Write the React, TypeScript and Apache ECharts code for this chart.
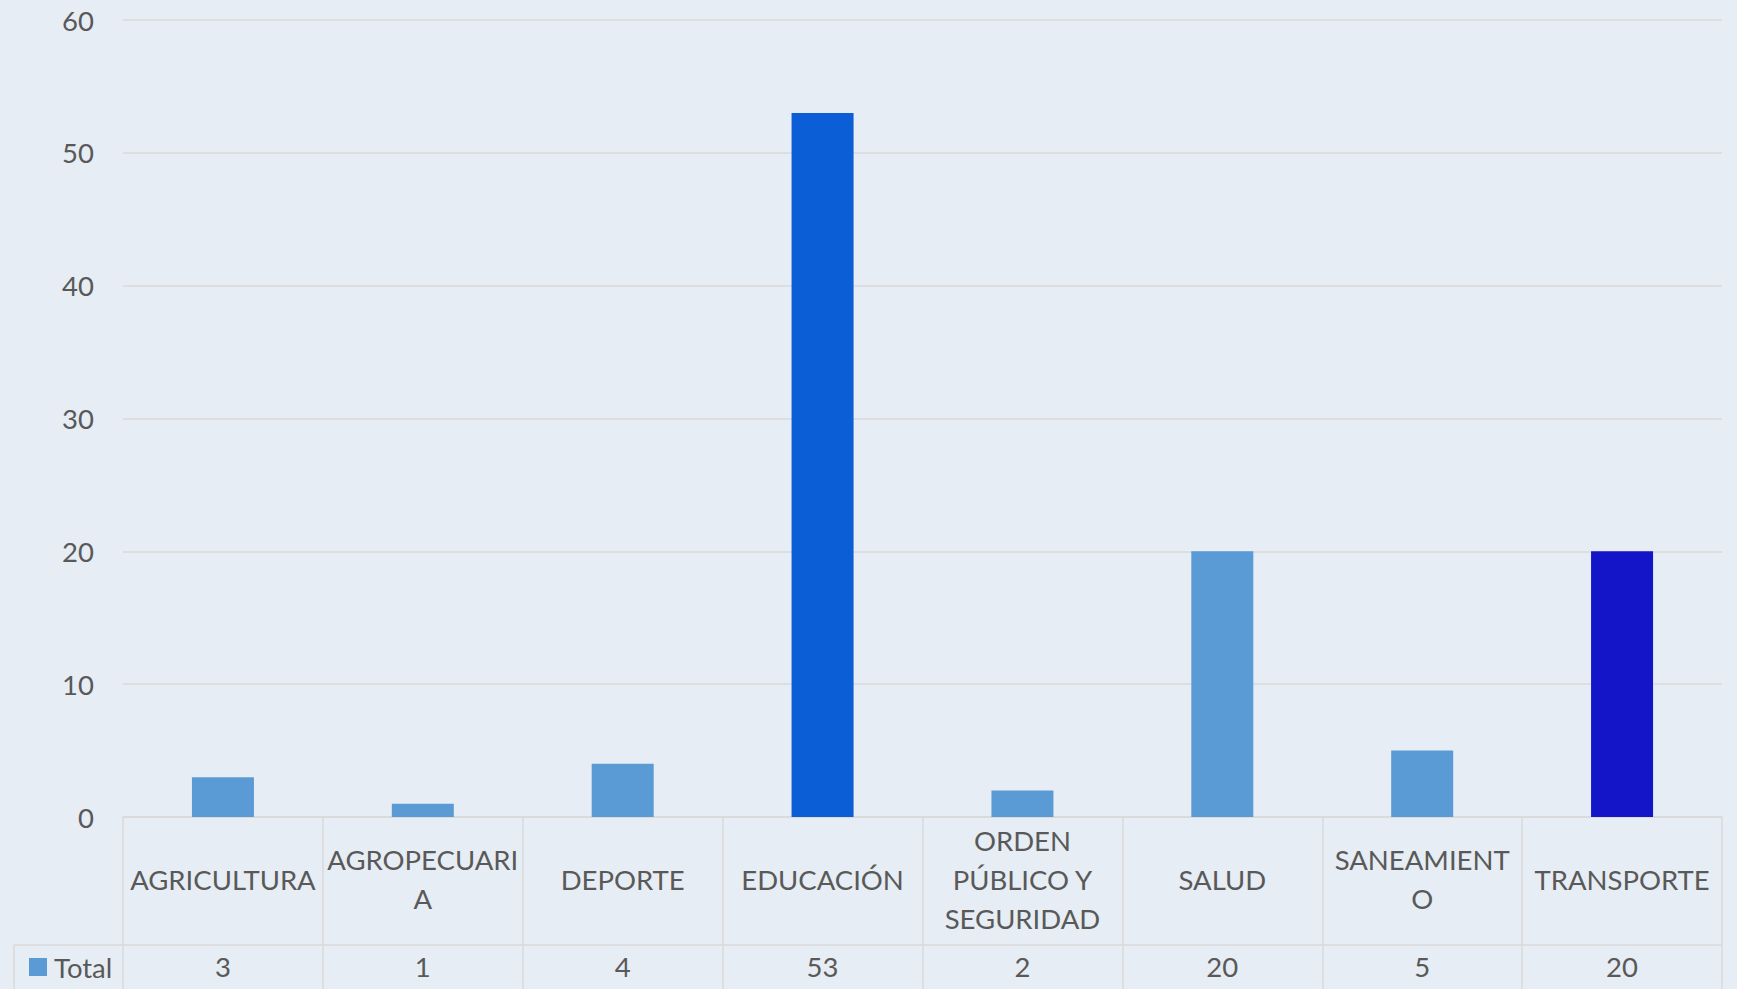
import React, { useEffect, useRef } from "react";
import * as echarts from "echarts";

const categories = [
  "AGRICULTURA",
  "AGROPECUARIA",
  "DEPORTE",
  "EDUCACIÓN",
  "ORDEN PÚBLICO Y SEGURIDAD",
  "SALUD",
  "SANEAMIENTO",
  "TRANSPORTE",
];
const categoryLabels = [
  "AGRICULTURA",
  "AGROPECUARI\nA",
  "DEPORTE",
  "EDUCACIÓN",
  "ORDEN\nPÚBLICO Y\nSEGURIDAD",
  "SALUD",
  "SANEAMIENT\nO",
  "TRANSPORTE",
];
const totals = [3, 1, 4, 53, 2, 20, 5, 20];
const barColors = ["#5B9BD5", "#5B9BD5", "#5B9BD5", "#0B5ED5", "#5B9BD5", "#5B9BD5", "#5B9BD5", "#1414C8"];
const seriesName = "Total";
const yTicks = { min: 0, max: 60, interval: 10 };

const W = 1737;
const H = 989;
const GRID_LEFT = 123;
const GRID_RIGHT = 15;
const GRID_TOP = 20;
const AXIS_Y = 817;
const ROW_Y = 945;
const FONT = "Lato, 'Open Sans', sans-serif";
const TEXT = "#595959";
const LINE = "#D9D9D9";
const FS = 27.5;

export default function App() {
  const ref = useRef<HTMLDivElement>(null);
  useEffect(() => {
    if (!ref.current) return;
    const chart = echarts.init(ref.current, null, { renderer: "svg" });
    chart.setOption({
      animation: false,
      backgroundColor: "#E6EDF4",
      textStyle: { fontFamily: FONT },
      grid: { left: GRID_LEFT, right: GRID_RIGHT, top: GRID_TOP, bottom: H - AXIS_Y, containLabel: false },
      legend: {
        show: true,
        left: 24,
        top: 948,
        itemWidth: 18,
        itemHeight: 18,
        itemGap: 6,
        icon: "rect",
        data: [{ name: seriesName, itemStyle: { color: "#5B9BD5" } }],
        textStyle: { color: TEXT, fontSize: FS, fontFamily: FONT, padding: [0, 0, 0, 2] },
        selectedMode: false,
      },
      xAxis: [
        {
          type: "category",
          data: categories,
          position: "bottom",
          axisLine: { show: true, lineStyle: { color: LINE, width: 1.5 } },
          axisTick: { show: true, length: H - AXIS_Y, lineStyle: { color: LINE, width: 1.5 } },
          axisLabel: {
            interval: 0,
            margin: 62,
            verticalAlign: "middle",
            lineHeight: 39,
            color: TEXT,
            fontSize: FS,
            fontFamily: FONT,
            formatter: (_v: string, i: number) => categoryLabels[i],
          },
        },
        {
          type: "category",
          data: categories,
          position: "bottom",
          offset: 0,
          axisLine: { show: false },
          axisTick: { show: false },
          axisLabel: {
            interval: 0,
            margin: 149,
            verticalAlign: "middle",
            color: TEXT,
            fontSize: FS,
            fontFamily: FONT,
            formatter: (_v: string, i: number) => String(totals[i]),
          },
        },
      ],
      yAxis: {
        type: "value",
        min: yTicks.min,
        max: yTicks.max,
        interval: yTicks.interval,
        axisLine: { show: false },
        axisTick: { show: false },
        axisLabel: { color: TEXT, fontSize: FS, fontFamily: FONT, margin: 29 },
        splitLine: { lineStyle: { color: LINE, width: 1.5 } },
      },
      series: [
        {
          name: seriesName,
          type: "bar",
          xAxisIndex: 0,
          barWidth: 62,
          data: totals.map((v, i) => ({ value: v, itemStyle: { color: barColors[i] } })),
          itemStyle: { color: "#5B9BD5" },
        },
      ],
      graphic: [
        {
          type: "line",
          shape: { x1: 14, y1: ROW_Y, x2: W - GRID_RIGHT, y2: ROW_Y },
          style: { stroke: LINE, lineWidth: 1.5 },
          silent: true,
        },
        {
          type: "line",
          shape: { x1: 14, y1: ROW_Y, x2: 14, y2: H },
          style: { stroke: LINE, lineWidth: 1.5 },
          silent: true,
        },
      ],
    });
    return () => chart.dispose();
  }, []);
  return <div ref={ref} style={{ width: W, height: H, position: "absolute", left: 0, top: 0 }} />;
}
